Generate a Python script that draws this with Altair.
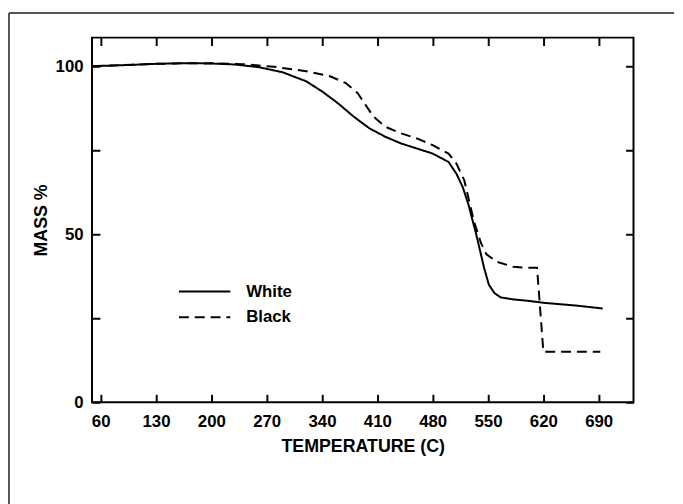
import altair as alt
import pandas as pd

# ---- data ----
white_T = [50, 100, 130, 170, 200, 230, 260, 290, 320, 340, 360, 380, 400, 420, 440, 460, 480, 500, 510, 518, 525, 535, 545, 551, 558, 566, 582, 600, 620, 660, 695]
white_M = [100, 100.4, 100.7, 100.9, 100.8, 100.5, 99.7, 98.2, 95.5, 92.5, 89, 85, 81.5, 79, 77, 75.5, 74, 71.5, 68, 64, 59, 50, 40, 35, 32.5, 31.2, 30.6, 30.2, 29.6, 28.8, 27.9]

black_T = [50, 100, 130, 170, 200, 240, 280, 320, 350, 370, 385, 395, 405, 420, 440, 460, 480, 500, 510, 520, 527, 532, 541, 548, 561, 582, 600, 612, 620, 692]
black_M = [100, 100.4, 100.7, 100.9, 100.9, 100.6, 99.8, 98.5, 97, 95, 92, 88.5, 85, 82, 80, 78.5, 76.5, 74, 71, 66, 59, 54, 47.4, 44, 41.8, 40.3, 40, 40, 15, 15]

series_names = ["White", "Black"]
x_ticks = [60, 130, 200, 270, 340, 410, 480, 550, 620, 690]
y_ticks = [0, 25, 50, 75, 100]
y_labels = [0, 50, 100]

rows = []
for t, m in zip(white_T, white_M):
    rows.append({"T": t, "M": m, "series": "White", "order": len(rows)})
for t, m in zip(black_T, black_M):
    rows.append({"T": t, "M": m, "series": "Black", "order": len(rows)})
df = pd.DataFrame(rows)

W, H = 548, 369
FONT = "Liberation Sans"

xscale = alt.Scale(domain=[49, 734], nice=False, zero=False)
yscale = alt.Scale(domain=[0, 108.5], nice=False, zero=False)

base = alt.Chart(df)

lines = base.mark_line(color="black", strokeWidth=2).encode(
    x=alt.X("T:Q", scale=xscale,
            axis=alt.Axis(orient="bottom", values=x_ticks, ticks=False, domain=False, grid=False,
                          labelFontSize=17, labelFont=FONT, labelFontWeight="bold", labelColor="black",
                          labelPadding=12, title="TEMPERATURE (C)", titleFont=FONT, titleFontSize=18,
                          titleFontWeight="bold", titleColor="black", titlePadding=8)),
    y=alt.Y("M:Q", scale=yscale,
            axis=alt.Axis(orient="left", values=y_labels, ticks=False, domain=False, grid=False,
                          labelFontSize=17, labelFont=FONT, labelFontWeight="bold", labelColor="black",
                          labelPadding=9, title="MASS %", titleFont=FONT, titleFontSize=18,
                          titleFontWeight="bold", titleColor="black", titlePadding=5)),
    strokeDash=alt.StrokeDash("series:N",
                              scale=alt.Scale(domain=series_names, range=[[1, 0], [10, 6]]),
                              legend=alt.Legend(orient="none", legendX=104, legendY=247, title=None,
                                                symbolType="M-3,0H3", symbolSize=300, symbolStrokeWidth=2,
                                                symbolStrokeColor="black", labelFont=FONT, labelFontSize=17,
                                                labelFontWeight="bold", labelColor="black", labelOffset=32,
                                                rowPadding=8, padding=0)),
    order="order:Q",
)

# inward ticks on bottom and left edges
ticks_bl = base.mark_line(opacity=0).encode(
    x=alt.X("T:Q", axis=alt.Axis(orient="top", offset=-H, values=x_ticks, labels=False, domain=False,
                                 grid=False, tickSize=8, tickWidth=2, tickColor="black", title=None)),
    y=alt.Y("M:Q", axis=alt.Axis(orient="right", offset=-W, values=y_ticks, labels=False, domain=False,
                                 grid=False, tickSize=8, tickWidth=2, tickColor="black", title=None)),
)
# inward ticks on top and right edges
ticks_tr = base.mark_line(opacity=0).encode(
    x=alt.X("T:Q", axis=alt.Axis(orient="bottom", offset=-H, values=x_ticks, labels=False, domain=False,
                                 grid=False, tickSize=8, tickWidth=2, tickColor="black", title=None)),
    y=alt.Y("M:Q", axis=alt.Axis(orient="left", offset=-W, values=y_ticks, labels=False, domain=False,
                                 grid=False, tickSize=8, tickWidth=2, tickColor="black", title=None)),
)

frame_left = alt.Chart(pd.DataFrame({"a": [0]})).mark_rule(color="#555555", strokeWidth=2).encode(
    x=alt.value(-84), y=alt.value(-25), y2=alt.value(475))
frame_top = alt.Chart(pd.DataFrame({"a": [0]})).mark_rule(color="#555555", strokeWidth=2).encode(
    x=alt.value(-84), x2=alt.value(589), y=alt.value(-25))

chart = alt.layer(lines, ticks_bl, ticks_tr, frame_left, frame_top).resolve_axis(
    x="independent", y="independent"
).properties(
    width=W, height=H,
    autosize=alt.AutoSizeParams(type="none"),
    padding={"left": 85, "top": 27, "right": 42, "bottom": 100},
    background="white",
).configure_view(stroke="black", strokeWidth=2)

chart.save("out.html", embed_options={"renderer": "svg", "actions": False})
